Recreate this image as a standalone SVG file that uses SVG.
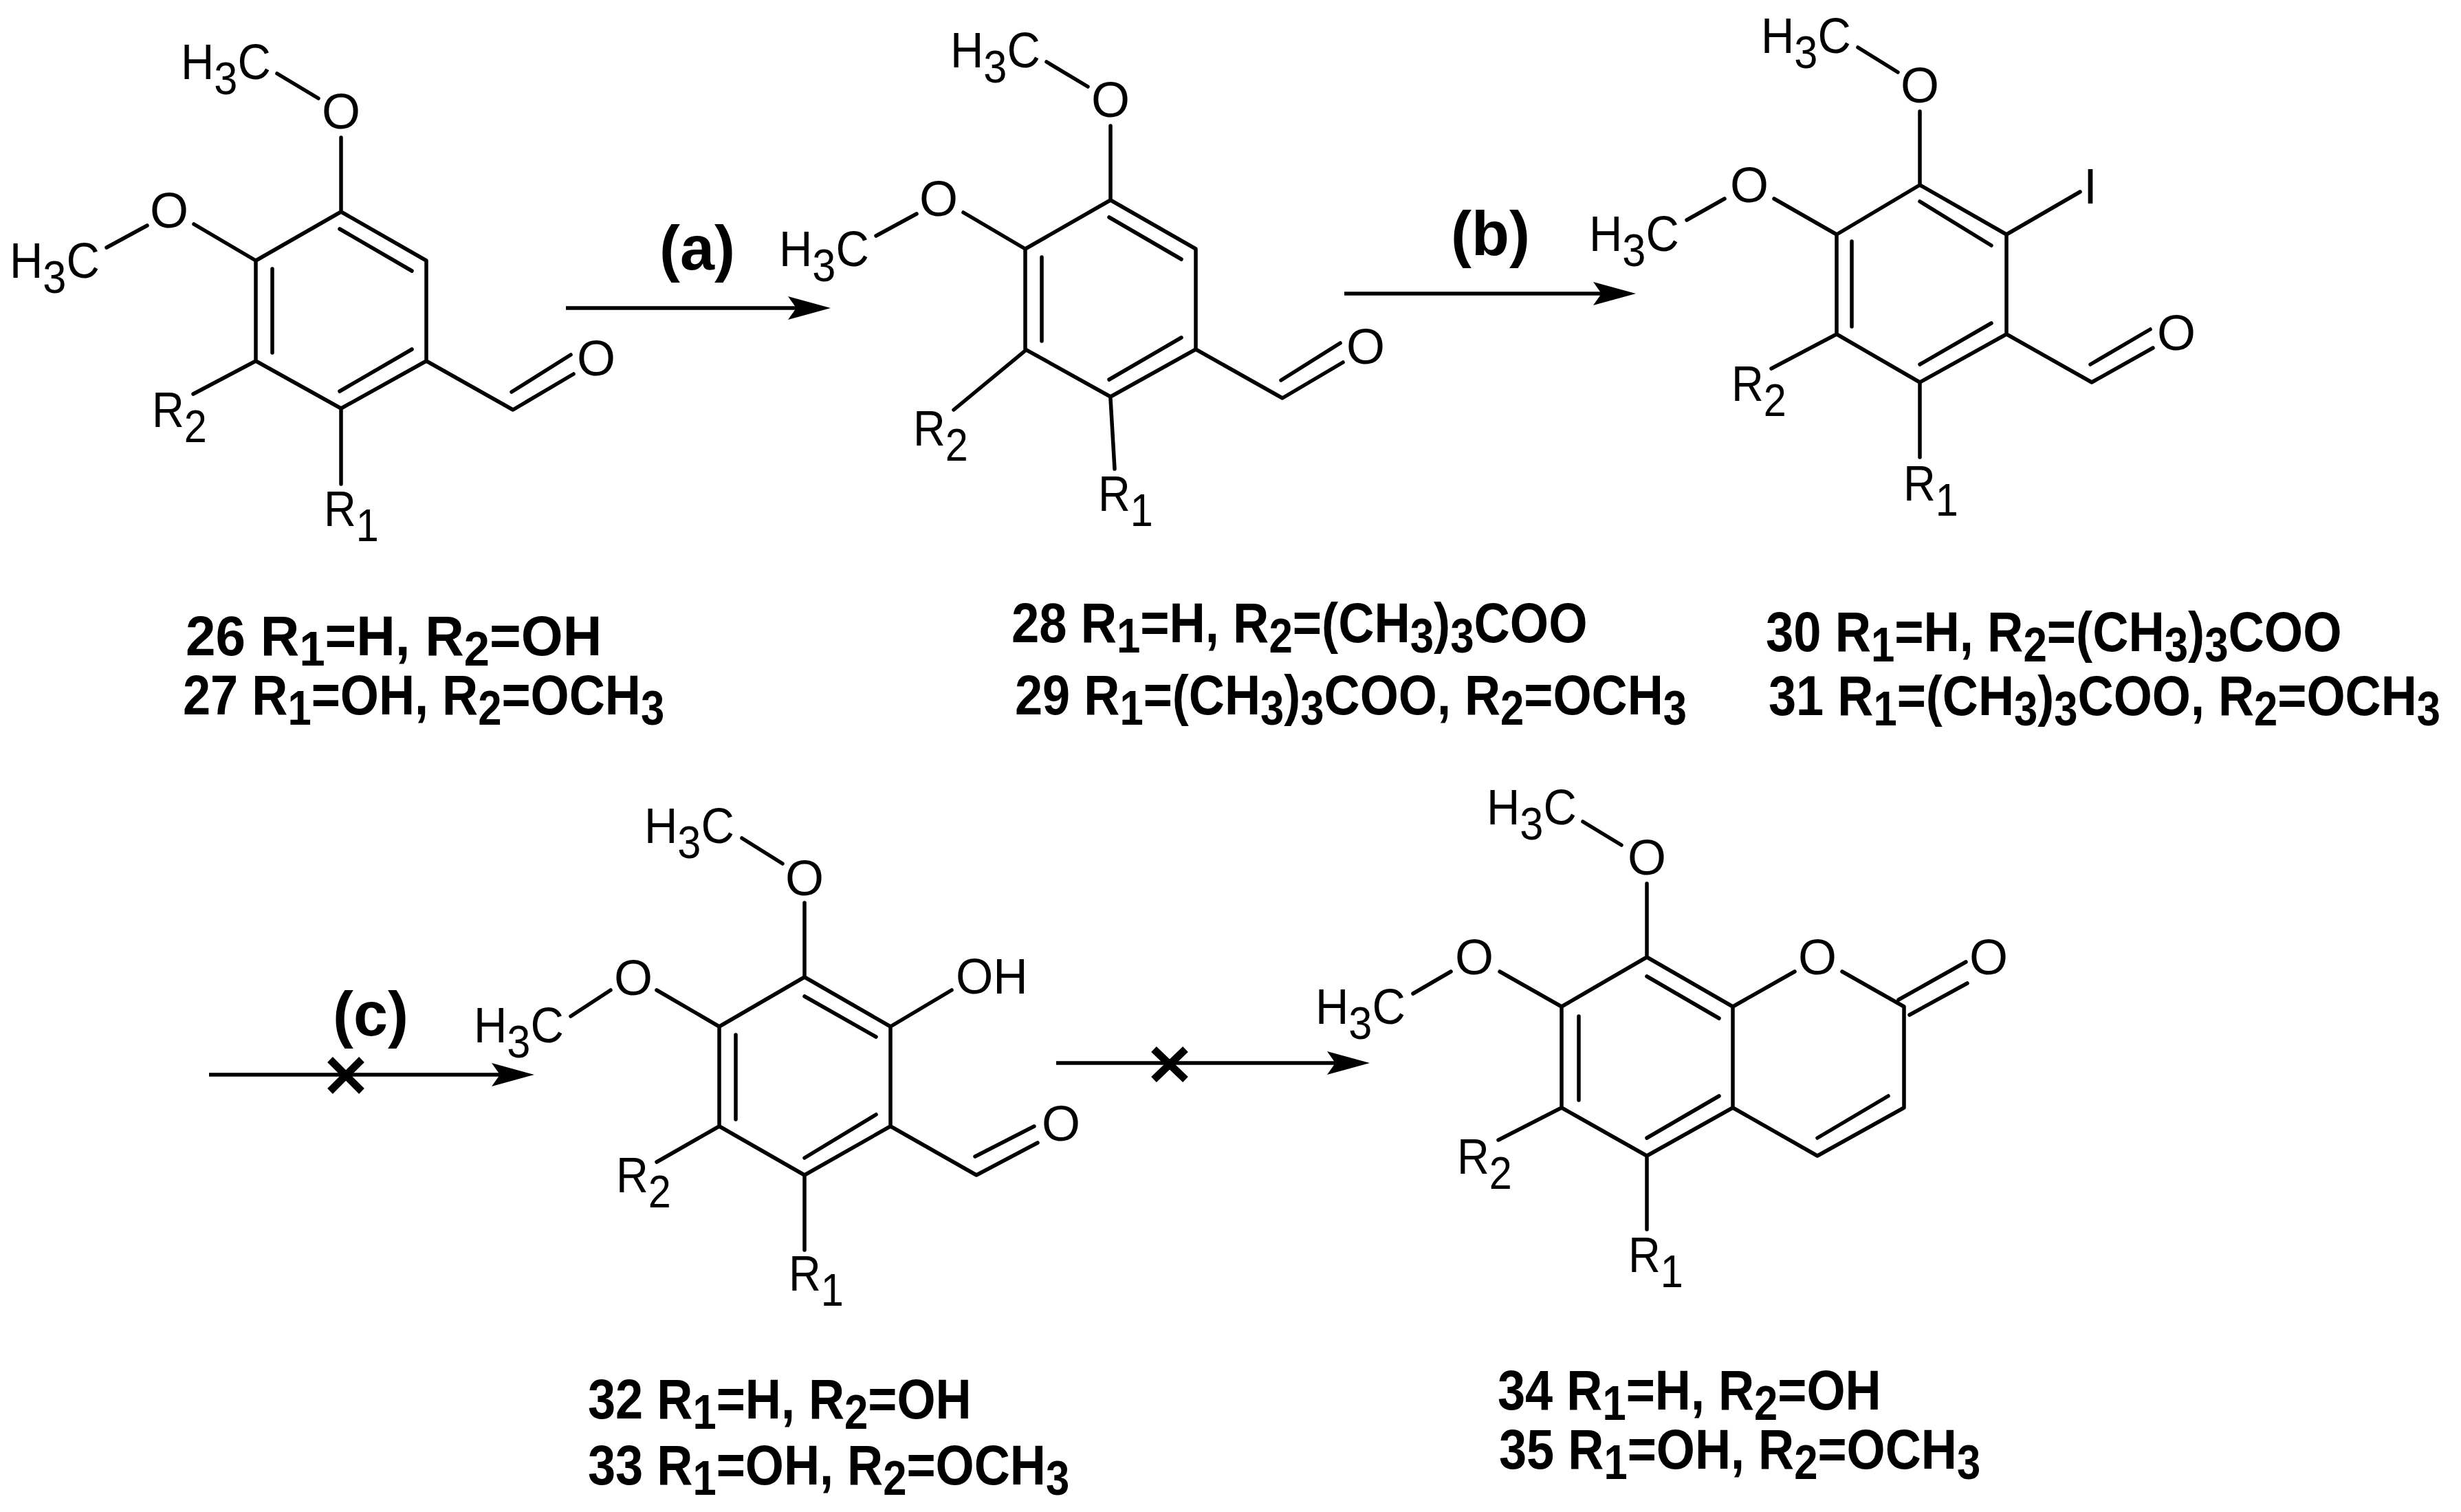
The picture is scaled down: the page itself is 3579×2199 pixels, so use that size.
<svg xmlns="http://www.w3.org/2000/svg" width="3579" height="2199" viewBox="0 0 3579 2199">
<defs>
<style>
.bond{fill:none;stroke:#000;stroke-width:5.5;stroke-linecap:round;stroke-linejoin:round}
.arrow{fill:none;stroke:#000;stroke-width:5.5;marker-end:url(#head)}
.cross{fill:none;stroke:#000;stroke-width:11}
text{font-family:"Liberation Sans",Arial,sans-serif;fill:#000}
.a{font-size:72px}
.m{text-anchor:middle}
.b{font-size:82px;font-weight:bold}
.r{font-size:90px;font-weight:bold}
.s{font-size:66px}
.t{font-size:70px}
</style>
<marker id="head" viewBox="0 0 62 36" refX="30" refY="18" markerWidth="62" markerHeight="36" markerUnits="userSpaceOnUse" orient="auto"><path d="M0,1 L62,18 L0,35 L12,18Z" fill="#000"/></marker>
</defs>
<rect width="3579" height="2199" fill="#fff"/>

<g id="compound-26-27">
<path class="bond" d="M496,308L620,379L620,525L496,594L372,525L372,379Z M494,333L599,394 M396,391L396,513 M494,569L599,508 M496,200L496,308 M403,107L463,143 M282,326L372,379 M155,360L214,328 M372,525L281,573 M496,594L496,704 M620,525L746,596L834,544 M744,570L830,516"/>
<text class="a" transform="translate(263,115) scale(.93,1)">H<tspan class="s" dy="22">3</tspan><tspan dy="-22">C</tspan></text>
<text class="a m" x="496" y="187">O</text>
<text class="a m" x="246" y="331">O</text>
<text class="a" transform="translate(14,404) scale(.93,1)">H<tspan class="s" dy="22">3</tspan><tspan dy="-22">C</tspan></text>
<text class="a" transform="translate(221,621) scale(.9,1)">R<tspan class="s" dy="22">2</tspan></text>
<text class="a" transform="translate(471,765) scale(.9,1)">R<tspan class="s" dy="22">1</tspan></text>
<text class="a m" x="867" y="546">O</text>
<text class="b" transform="translate(270,953) scale(.955,1)">26 R<tspan class="t" dy="15">1</tspan><tspan dy="-15">=H, R</tspan><tspan class="t" dy="15">2</tspan><tspan dy="-15">=OH</tspan></text>
<text class="b" transform="translate(266,1039) scale(.88,1)">27 R<tspan class="t" dy="15">1</tspan><tspan dy="-15">=OH, R</tspan><tspan class="t" dy="15">2</tspan><tspan dy="-15">=OCH</tspan><tspan class="t" dy="15">3</tspan></text>
</g>

<g id="compound-28-29">
<path class="bond" d="M1615,291L1739,362L1739,508L1615,577L1491,508L1491,362Z M1613,316L1718,377 M1515,374L1515,496 M1613,552L1718,491 M1615,183L1615,291 M1522,90L1582,126 M1401,309L1491,362 M1274,343L1333,311 M1491,510L1387,596 M1615,580L1621,682 M1739,508L1865,579L1953,527 M1863,553L1949,499"/>
<text class="a" transform="translate(1382,98) scale(.93,1)">H<tspan class="s" dy="22">3</tspan><tspan dy="-22">C</tspan></text>
<text class="a m" x="1615" y="170">O</text>
<text class="a m" x="1365" y="314">O</text>
<text class="a" transform="translate(1133,387) scale(.93,1)">H<tspan class="s" dy="22">3</tspan><tspan dy="-22">C</tspan></text>
<text class="a" transform="translate(1328,648) scale(.9,1)">R<tspan class="s" dy="22">2</tspan></text>
<text class="a" transform="translate(1597,743) scale(.9,1)">R<tspan class="s" dy="22">1</tspan></text>
<text class="a m" x="1986" y="529">O</text>
<text class="b" transform="translate(1471,934) scale(.883,1)">28 R<tspan class="t" dy="15">1</tspan><tspan dy="-15">=H, R</tspan><tspan class="t" dy="15">2</tspan><tspan dy="-15">=(CH</tspan><tspan class="t" dy="15">3</tspan><tspan dy="-15">)</tspan><tspan class="t" dy="15">3</tspan><tspan dy="-15">COO</tspan></text>
<text class="b" transform="translate(1476,1039) scale(.88,1)">29 R<tspan class="t" dy="15">1</tspan><tspan dy="-15">=(CH</tspan><tspan class="t" dy="15">3</tspan><tspan dy="-15">)</tspan><tspan class="t" dy="15">3</tspan><tspan dy="-15">COO, R</tspan><tspan class="t" dy="15">2</tspan><tspan dy="-15">=OCH</tspan><tspan class="t" dy="15">3</tspan></text>
</g>

<g id="compound-30-31">
<path class="bond" d="M2792,269L2918,341L2918,486L2792,556L2671,486L2671,341Z M2792,293L2896,357 M2693,351L2693,475 M2792,530L2896,470 M2792,162L2792,269 M2702,69L2760,105 M2580,289L2671,341 M2453,320L2508,289 M2671,486L2576,536 M2792,556L2792,665 M2918,341L3025,279 M2918,486L3042,556L3131,506 M3040,530L3127,479"/>
<text class="a" transform="translate(2561,77) scale(.93,1)">H<tspan class="s" dy="22">3</tspan><tspan dy="-22">C</tspan></text>
<text class="a m" x="2792" y="149">O</text>
<text class="a m" x="2544" y="294">O</text>
<text class="a" transform="translate(2311,365) scale(.93,1)">H<tspan class="s" dy="22">3</tspan><tspan dy="-22">C</tspan></text>
<text class="a m" x="3040" y="296">I</text>
<text class="a" transform="translate(2518,583) scale(.9,1)">R<tspan class="s" dy="22">2</tspan></text>
<text class="a" transform="translate(2768,728) scale(.9,1)">R<tspan class="s" dy="22">1</tspan></text>
<text class="a m" x="3165" y="509">O</text>
<text class="b" transform="translate(2568,947) scale(.883,1)">30 R<tspan class="t" dy="15">1</tspan><tspan dy="-15">=H, R</tspan><tspan class="t" dy="15">2</tspan><tspan dy="-15">=(CH</tspan><tspan class="t" dy="15">3</tspan><tspan dy="-15">)</tspan><tspan class="t" dy="15">3</tspan><tspan dy="-15">COO</tspan></text>
<text class="b" transform="translate(2572,1040) scale(.88,1)">31 R<tspan class="t" dy="15">1</tspan><tspan dy="-15">=(CH</tspan><tspan class="t" dy="15">3</tspan><tspan dy="-15">)</tspan><tspan class="t" dy="15">3</tspan><tspan dy="-15">COO, R</tspan><tspan class="t" dy="15">2</tspan><tspan dy="-15">=OCH</tspan><tspan class="t" dy="15">3</tspan></text>
</g>

<g id="compound-32-33">
<path class="bond" d="M1170,1421L1295,1493L1295,1638L1170,1709L1046,1638L1046,1493Z M1170,1449L1274,1508 M1070,1505L1070,1628 M1170,1684L1274,1621 M1170,1313L1170,1421 M1079,1219L1138,1256 M955,1440L1046,1493 M830,1478L888,1440 M1295,1493L1384,1440 M1295,1638L1420,1709L1509,1662 M1418,1682L1504,1638 M1046,1638L955,1690 M1170,1709L1170,1818"/>
<text class="a" transform="translate(937,1226) scale(.93,1)">H<tspan class="s" dy="22">3</tspan><tspan dy="-22">C</tspan></text>
<text class="a m" x="1170" y="1302">O</text>
<text class="a m" x="921" y="1447">O</text>
<text class="a" transform="translate(689,1516) scale(.93,1)">H<tspan class="s" dy="22">3</tspan><tspan dy="-22">C</tspan></text>
<text class="a" transform="translate(1390,1445) scale(.97,1)">OH</text>
<text class="a m" x="1543" y="1659">O</text>
<text class="a" transform="translate(896,1734) scale(.9,1)">R<tspan class="s" dy="22">2</tspan></text>
<text class="a" transform="translate(1147,1877) scale(.9,1)">R<tspan class="s" dy="22">1</tspan></text>
<text class="b" transform="translate(855,2063) scale(.88,1)">32 R<tspan class="t" dy="15">1</tspan><tspan dy="-15">=H, R</tspan><tspan class="t" dy="15">2</tspan><tspan dy="-15">=OH</tspan></text>
<text class="b" transform="translate(855,2159) scale(.88,1)">33 R<tspan class="t" dy="15">1</tspan><tspan dy="-15">=OH, R</tspan><tspan class="t" dy="15">2</tspan><tspan dy="-15">=OCH</tspan><tspan class="t" dy="15">3</tspan></text>
</g>

<g id="compound-34-35">
<path class="bond" d="M2395,1392L2520,1464L2520,1611L2395,1681L2271,1611L2271,1464Z M2395,1420L2500,1481 M2296,1478L2296,1600 M2395,1655L2500,1594 M2395,1285L2395,1392 M2302,1195L2358,1229 M2181,1413L2271,1464 M2055,1445L2110,1413 M2520,1464L2610,1413 M2679,1413L2769,1464L2769,1611L2643,1681L2520,1611 M2643,1655L2746,1594 M2761,1454L2859,1399 M2777,1476L2861,1430 M2271,1611L2179,1658 M2395,1681L2395,1788"/>
<text class="a" transform="translate(2162,1199) scale(.93,1)">H<tspan class="s" dy="22">3</tspan><tspan dy="-22">C</tspan></text>
<text class="a m" x="2395" y="1272">O</text>
<text class="a m" x="2144" y="1417">O</text>
<text class="a" transform="translate(1913,1489) scale(.93,1)">H<tspan class="s" dy="22">3</tspan><tspan dy="-22">C</tspan></text>
<text class="a m" x="2643" y="1417">O</text>
<text class="a m" x="2892" y="1417">O</text>
<text class="a" transform="translate(2119,1707) scale(.9,1)">R<tspan class="s" dy="22">2</tspan></text>
<text class="a" transform="translate(2368,1850) scale(.9,1)">R<tspan class="s" dy="22">1</tspan></text>
<text class="b" transform="translate(2178,2050) scale(.88,1)">34 R<tspan class="t" dy="15">1</tspan><tspan dy="-15">=H, R</tspan><tspan class="t" dy="15">2</tspan><tspan dy="-15">=OH</tspan></text>
<text class="b" transform="translate(2180,2136) scale(.88,1)">35 R<tspan class="t" dy="15">1</tspan><tspan dy="-15">=OH, R</tspan><tspan class="t" dy="15">2</tspan><tspan dy="-15">=OCH</tspan><tspan class="t" dy="15">3</tspan></text>
</g>

<g id="connectors">
<line class="arrow" x1="823" y1="448" x2="1176" y2="448"/>
<line class="arrow" x1="1955" y1="427" x2="2347" y2="427"/>
<line class="arrow" x1="304" y1="1563" x2="745" y2="1563"/>
<line class="arrow" x1="1536" y1="1546" x2="1960" y2="1546"/>
<path class="cross" d="M480,1541L526,1587M526,1541L480,1587"/>
<path class="cross" d="M1678,1526L1724,1570M1724,1526L1678,1570"/>
</g>
<g id="reagents">
<text class="r" x="959" y="392">(a)</text>
<text class="r" x="2110" y="371">(b)</text>
<text class="r" x="484" y="1506">(c)</text>
</g>
</svg>
